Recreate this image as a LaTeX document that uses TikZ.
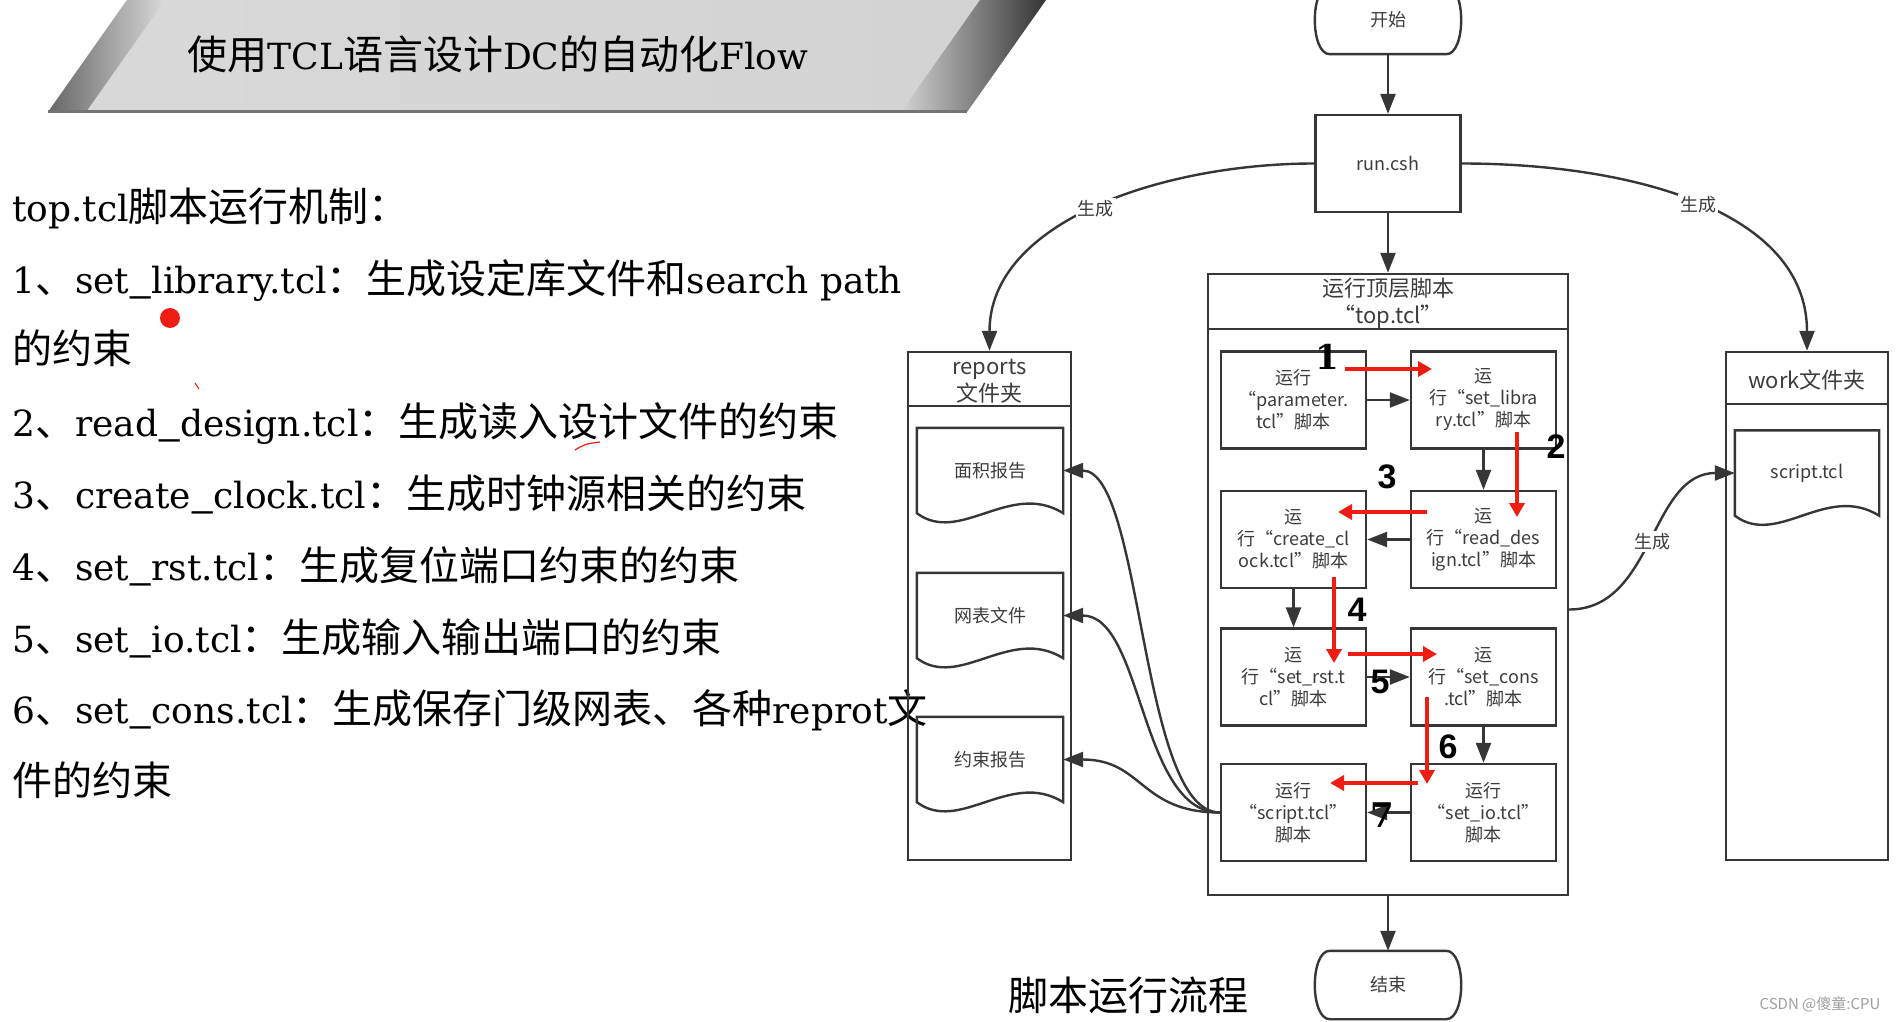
\documentclass[tikz,border=0pt]{standalone}
\usepackage{fontspec}
\setmainfont{Noto Sans CJK SC}
\newfontfamily\lat[Scale=0.9]{DejaVu Serif}
\newfontfamily\numsans{Liberation Sans}
\newfontfamily\numserif{DejaVu Serif}
\newcommand\uscore{{\normalfont\_}}
\usetikzlibrary{arrows.meta}
\definecolor{boxgray}{HTML}{363636}
\definecolor{txtgray}{HTML}{3C3C3C}
\definecolor{markred}{RGB}{238,28,18}
\tikzset{
  boxline/.style={draw=boxgray, line width=2.4pt},
  flow/.style={boxline, -{Triangle[length=20pt,width=15pt]}},
  redflow/.style={draw=markred, line width=4pt, -{Triangle[length=14pt,width=15pt]}},
  stepbox/.style={boxline, minimum width=145pt, minimum height=97pt, inner sep=0pt,
    align=center, text=txtgray, font=\fontsize{18}{22}\selectfont},
  termbox/.style={minimum width=116pt, minimum height=68pt, inner sep=0pt,
    text=txtgray, font=\fontsize{18}{22}\selectfont},
  docnode/.style={minimum width=146pt, minimum height=85pt, inner sep=0pt,
    text=txtgray, font=\fontsize{18}{22}\selectfont},
  folder/.style={boxline, minimum width=163pt, minimum height=508pt, inner sep=0pt},
  headtxt/.style={align=center, inner sep=0pt, text=txtgray, font=\fontsize{22}{27}\selectfont},
  genlab/.style={fill=white, inner sep=2pt, text=txtgray, font=\fontsize{18}{22}\selectfont},
  marknum/.style={inner sep=0pt, font=\numsans\bfseries\fontsize{34}{34}\selectfont},
  markserif/.style={inner sep=0pt, font=\numserif\bfseries\fontsize{34}{34}\selectfont},
  listline/.style={anchor=base west, inner sep=0pt, font=\fontsize{40}{48}\selectfont},
}

\begin{document}
\begin{tikzpicture}[x=1pt,y=-1pt]
  \path[use as bounding box, fill=white] (0,0) rectangle (1896,1022);

  % title banner
  \shade[left color=gray!30, middle color=white, right color=gray!35]
    (127,0) -- (1046,0) -- (967,112) -- (48,112) -- cycle;
  \shade[left color=black!60, right color=gray!30]
    (127,0) -- (165,0) -- (86,112) -- (48,112) -- cycle;
  \shade[left color=gray!35, right color=black!80]
    (980,0) -- (1046,0) -- (967,112) -- (901,112) -- cycle;
  \draw[black!55, line width=3pt] (48,112) -- (967,112);
  \node[font=\fontsize{40}{46}\selectfont] (title) at (498,54)
    {使用{\lat TCL}语言设计{\lat DC}的自动化{\lat Flow}};

  % left text
  \node[listline] (head) at (12,221) {{\lat top.tcl}脚本运行机制：};
  \node[listline] (item1) at (12,293) {{\lat 1}、{\lat set\uscore library.tcl}：生成设定库文件和{\lat search path}};
  \node[listline] (item1b) at (12,363) {的约束};
  \node[listline] (item2) at (12,436) {{\lat 2}、{\lat read\uscore design.tcl}：生成读入设计文件的约束};
  \node[listline] (item3) at (12,508) {{\lat 3}、{\lat create\uscore clock.tcl}：生成时钟源相关的约束};
  \node[listline] (item4) at (12,580) {{\lat 4}、{\lat set\uscore rst.tcl}：生成复位端口约束的约束};
  \node[listline] (item5) at (12,652) {{\lat 5}、{\lat set\uscore io.tcl}：生成输入输出端口的约束};
  \node[listline] (item6) at (12,723) {{\lat 6}、{\lat set\uscore cons.tcl}：生成保存门级网表、各种{\lat reprot}文};
  \node[listline] (item6b) at (12,795) {件的约束};
  \fill[markred] (170,318) circle (10);
  \draw[markred, line width=1pt] (195,383) -- (199,389);
  \draw[markred, line width=1.2pt] (575,450) .. controls (585,444) .. (600,442);

  % main flow
  \node[termbox] (start) at (1388,20) {开始};
  \node[stepbox] (run) at (1388,163.5) {run.csh};
  \node[boxline, minimum width=360pt, minimum height=621pt] (top) at (1388,584.5) {};
  \draw[boxline] ([yshift=-56pt]top.north west) -- ([yshift=-56pt]top.north east);
  \node[headtxt] (toptitle) at (1388,303) {运行顶层脚本\\“top.tcl”};

  \node[stepbox] (param)  at (1293.5,400)   {运行\\“parameter.\\tcl”脚本};
  \node[stepbox] (lib)    at (1483.5,400)   {运\\行“set\_libra\\ry.tcl”脚本};
  \node[stepbox] (read)   at (1483.5,539.5) {运\\行“read\_des\\ign.tcl”脚本};
  \node[stepbox] (clock)  at (1293.5,539.5) {运\\行“create\_cl\\ock.tcl”脚本};
  \node[stepbox] (rst)    at (1293.5,677)   {运\\行“set\_rst.t\\cl”脚本};
  \node[stepbox] (cons)   at (1483.5,677)   {运\\行“set\_cons\\.tcl”脚本};
  \node[stepbox] (io)     at (1483.5,812.5) {运行\\“set\_io.tcl”\\脚本};
  \node[stepbox] (script) at (1293.5,812.5) {运行\\“script.tcl”\\脚本};
  \node[termbox] (stop) at (1388,985) {结束};

  \foreach \t in {start,stop}
    \draw[boxline] (\t.north west) -- (\t.north east)
      .. controls +(20,0) and +(20,0) .. (\t.south east) -- (\t.south west)
      .. controls +(-20,0) and +(-20,0) .. (\t.north west) -- cycle;

  % folders
  \node[folder] (reports) at (989.5,606) {};
  \draw[boxline] ([yshift=-55pt]reports.north west) -- ([yshift=-55pt]reports.north east);
  \node[headtxt] (reptitle) at (989.5,381) {reports\\文件夹};
  \node[folder, minimum width=162pt] (work) at (1807,606) {};
  \draw[boxline] ([yshift=-53pt]work.north west) -- ([yshift=-53pt]work.north east);
  \node[headtxt] (worktitle) at (1807,380) {work文件夹};

  \node[docnode] (area)    at (990,470.5) {面积报告};
  \node[docnode] (netlist) at (990,615.5) {网表文件};
  \node[docnode] (constr)  at (990,759.5) {约束报告};
  \node[docnode, minimum width=144pt] (scriptdoc) at (1807,473) {script.tcl};
  \foreach \d in {area,netlist,constr,scriptdoc}
    \draw[boxline] (\d.south west) .. controls +(43,32) and +(-53,-33) .. (\d.south east)
      -- (\d.north east) -- (\d.north west) -- cycle;

  % connectors
  \draw[flow] (start) -- (run);
  \draw[flow] (run) -- (top);
  \draw[flow] (param) -- (lib);
  \draw[flow] (lib) -- (read);
  \draw[flow] (read) -- (clock);
  \draw[flow] (clock) -- (rst);
  \draw[flow] (rst) -- (cons);
  \draw[flow] (cons) -- (io);
  \draw[flow] (io) -- (script);
  \draw[flow] (top) -- (stop);

  \draw[flow] (run.west) .. controls +(-150,0) and +(0,-130) .. (reports.north)
    node[genlab, pos=0.5] {生成};
  \draw[flow] (run.east) .. controls +(170,0) and +(0,-140) .. (work.north)
    node[genlab, pos=0.5] {生成};
  \draw[flow] ([yshift=-25pt]top.east) .. controls +(85,0) and +(-85,0) .. (scriptdoc.west)
    node[genlab, pos=0.5] {生成};
  \foreach \d in {area,netlist,constr}
    \draw[flow] (script.west) .. controls +(-80,0) and +(80,0) .. (\d.east);

  % red order marks
  \coordinate (m1a) at (1345,369);   \coordinate (m1b) at (1432,369);
  \coordinate (m2a) at (1517,432);   \coordinate (m2b) at (1517,517);
  \coordinate (m3a) at (1427,512);   \coordinate (m3b) at (1338,512);
  \coordinate (m4a) at (1334,577);   \coordinate (m4b) at (1334,663);
  \coordinate (m5a) at (1348,654);   \coordinate (m5b) at (1437,654);
  \coordinate (m6a) at (1427,697);   \coordinate (m6b) at (1427,784);
  \coordinate (m7a) at (1418,783);   \coordinate (m7b) at (1330,783);
  \foreach \a/\b in {m1a/m1b,m2a/m2b,m3a/m3b,m4a/m4b,m5a/m5b,m6a/m6b,m7a/m7b}
    \draw[redflow] (\a) -- (\b);
  \node[markserif] (n1) at (1327,357) {1};
  \node[marknum] (n2) at (1556,447) {2};
  \node[marknum] (n3) at (1387,477) {3};
  \node[marknum] (n4) at (1357,610) {4};
  \node[marknum] (n5) at (1380,682) {5};
  \node[marknum] (n6) at (1448,747) {6};
  \node[markserif] (n7) at (1382,815) {7};

  \node[font=\fontsize{40}{48}\selectfont] (caption) at (1128,995) {脚本运行流程};
  \node[text=gray!75, font=\fontsize{15}{18}\selectfont] (credit) at (1820,1004) {CSDN @傻童:CPU};
\end{tikzpicture}
\end{document}
